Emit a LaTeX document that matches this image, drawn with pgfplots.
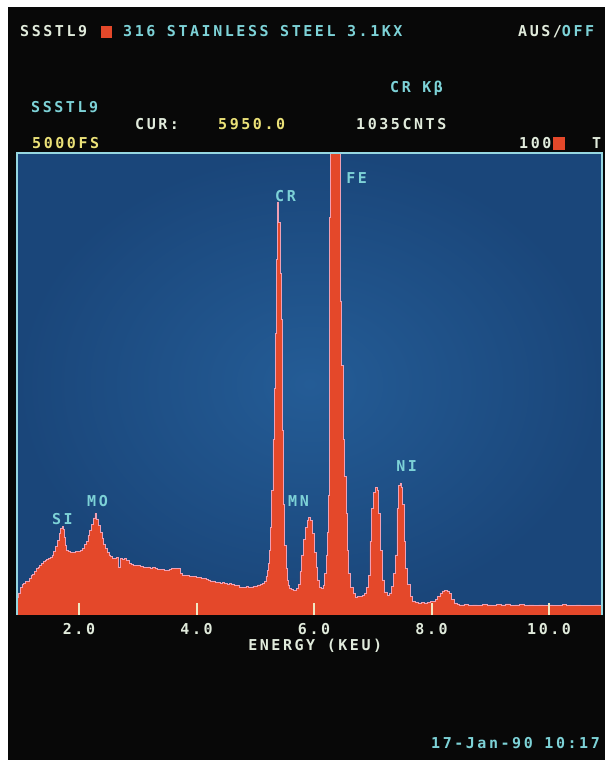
\documentclass[border=0pt]{standalone}
\usepackage{fontspec}
\usepackage{pgfplots}
\usepackage{pgfplotstable}
\pgfplotsset{compat=1.18}
\newfontfamily\scr[LetterSpace=17]{DejaVu Sans Mono Bold}
\newcommand\scrfont{\scr\fontsize{15}{15}\selectfont}
\definecolor{bgblack}{RGB}{8,8,8}
\definecolor{bluein}{RGB}{36,92,150}
\definecolor{blueout}{RGB}{26,70,122}
\definecolor{specred}{RGB}{228,72,42}
\definecolor{edgecol}{RGB}{240,160,180}
\definecolor{cyantxt}{RGB}{125,210,215}
\definecolor{yeltxt}{RGB}{235,225,120}
\definecolor{whitetxt}{RGB}{225,235,220}
\definecolor{bordercol}{RGB}{150,215,225}
\definecolor{tickcol}{RGB}{240,232,195}

\pgfplotstableread{
x y
0.945 190
0.97 240
1.00 300
1.03 330
1.06 345
1.09 360
1.12 370
1.15 400
1.18 430
1.21 440
1.24 470
1.27 500
1.30 520
1.33 540
1.36 560
1.39 580
1.42 590
1.45 600
1.48 610
1.51 620
1.54 650
1.57 690
1.60 740
1.63 810
1.66 880
1.69 940
1.71 955
1.73 930
1.75 840
1.77 750
1.79 700
1.82 685
1.86 680
1.90 675
1.94 685
1.98 690
2.02 700
2.06 720
2.09 760
2.12 800
2.15 860
2.18 920
2.21 980
2.24 1050
2.27 1100
2.30 1040
2.33 970
2.36 900
2.39 830
2.42 770
2.45 720
2.48 680
2.51 650
2.54 630
2.57 615
2.60 610
2.64 620
2.67 520
2.70 615
2.73 600
2.77 610
2.81 590
2.85 560
2.89 545
2.93 540
2.97 540
3.01 535
3.05 525
3.09 520
3.13 515
3.17 520
3.21 510
3.25 515
3.29 500
3.33 495
3.37 490
3.41 490
3.45 485
3.49 480
3.53 495
3.57 500
3.61 505
3.65 500
3.69 505
3.72 450
3.76 435
3.80 430
3.84 425
3.88 415
3.92 420
3.96 415
4.00 410
4.04 410
4.08 400
4.12 395
4.16 385
4.20 380
4.24 370
4.28 365
4.32 355
4.36 350
4.40 340
4.44 350
4.48 345
4.52 335
4.56 340
4.60 330
4.64 325
4.68 320
4.72 305
4.76 300
4.80 300
4.84 310
4.88 300
4.92 305
4.96 310
5.00 315
5.04 325
5.08 330
5.12 340
5.15 360
5.18 420
5.20 480
5.22 560
5.24 700
5.26 950
5.28 1350
5.30 1900
5.32 2450
5.34 3050
5.36 3850
5.38 4470
5.40 4250
5.42 3700
5.44 3200
5.46 2000
5.48 1200
5.50 750
5.52 500
5.54 380
5.56 320
5.58 290
5.61 275
5.64 265
5.67 270
5.70 285
5.73 330
5.76 470
5.79 650
5.82 820
5.85 950
5.88 1030
5.91 1060
5.94 1020
5.97 880
6.00 680
6.03 520
6.06 380
6.09 300
6.12 285
6.15 320
6.18 450
6.21 650
6.23 900
6.25 1300
6.26 4300
6.28 5600
6.31 6600
6.34 7200
6.37 7500
6.40 7200
6.43 6000
6.45 3400
6.47 2700
6.49 1900
6.52 1500
6.55 1100
6.57 700
6.59 450
6.62 300
6.66 230
6.70 195
6.74 200
6.78 205
6.82 215
6.86 240
6.89 300
6.92 430
6.95 800
6.98 1150
7.01 1330
7.04 1385
7.07 1350
7.10 1100
7.13 700
7.16 380
7.20 250
7.24 215
7.28 240
7.32 310
7.35 450
7.38 650
7.41 1150
7.44 1400
7.46 1430
7.48 1380
7.50 1200
7.53 800
7.56 500
7.59 330
7.63 200
7.67 150
7.72 135
7.77 130
7.82 140
7.87 130
7.92 140
7.97 145
8.02 150
8.06 170
8.10 200
8.14 240
8.18 260
8.22 265
8.26 260
8.30 230
8.34 170
8.38 130
8.43 115
8.48 110
8.55 115
8.62 105
8.70 110
8.78 105
8.86 115
8.94 110
9.02 105
9.10 115
9.18 110
9.26 120
9.34 105
9.42 110
9.50 115
9.58 105
9.66 110
9.74 100
9.82 110
9.90 105
9.98 110
10.06 100
10.14 105
10.22 115
10.30 100
10.38 105
10.46 110
10.54 100
10.62 105
10.70 100
10.78 110
10.86 100
10.90 100
}\spec

\begin{document}
\begin{tikzpicture}[x=1pt,y=1pt]
\fill[white] (0,0) rectangle (605,760);
\fill[bgblack] (8,0) rectangle (605,753);
\begin{axis}[
  at={(17pt,145pt)}, anchor=south west, scale only axis,
  width=585pt, height=462pt,
  xmin=0.945, xmax=10.9, ymin=0, ymax=5000,
  axis line style={draw=none},
  axis background/.style={inner color=bluein, outer color=blueout},
  clip mode=individual,
  xtick={2,4,6,8,10}, xticklabels={2.0,4.0,6.0,8.0,10.0},
  ytick=\empty, xtick pos=lower, tick align=inside,
  major tick length=12pt,
  xtick style={draw=tickcol, line width=2pt},
  axis on top,
  xticklabel style={font=\scrfont, text=whitetxt, anchor=north, inner sep=0pt, yshift=-8pt},
  xlabel={ENERGY (KEU)},
  xlabel style={at={(axis cs:6.02,0)}, anchor=base, inner sep=0pt, yshift=-36pt, font=\scrfont, text=whitetxt},
]
\addplot[const plot, fill=specred, draw=none] table {\spec} \closedcycle;
\addplot[const plot, draw=edgecol, line width=0.6pt] table {\spec};
\draw[bordercol, line width=1.5pt] (rel axis cs:0,0) -- (rel axis cs:0,1) -- (rel axis cs:1,1) -- (rel axis cs:1,0);
\begin{scope}[every node/.style={anchor=base west, inner sep=0pt, font=\scrfont, text=cyantxt}]
\node at (axis cs:5.336,4480) {CR};
\node at (axis cs:6.545,4674) {FE};
\node at (axis cs:5.557,1169) {MN};
\node at (axis cs:7.396,1558) {NI};
\node at (axis cs:1.540,974) {SI};
\node at (axis cs:2.136,1169) {MO};
\end{scope}
\end{axis}
\begin{scope}[every node/.style={anchor=base west, inner sep=0pt, font=\scrfont}]
\node[text=whitetxt] at (20,723) {SSSTL9};
\fill[specred] (101,722) rectangle (112,734);
\node[text=cyantxt] at (123,723) {316 STAINLESS STEEL 3.1KX};
\node at (518,723) {\textcolor{whitetxt}{AUS/}\textcolor{cyantxt}{OFF}};
\node[text=cyantxt] at (390,667) {CR Kβ};
\node[text=cyantxt] at (31,647) {SSSTL9};
\node[text=whitetxt] at (135,630) {CUR:};
\node[text=yeltxt] at (218,630) {5950.0};
\node[text=whitetxt] at (356,630) {1035CNTS};
\node[text=yeltxt] at (32,611) {5000FS};
\node[text=whitetxt] at (519,611) {100};
\fill[specred] (553,610) rectangle (565,623);
\node[text=whitetxt] at (592,611) {T};
\node[text=cyantxt, anchor=base east] at (600,12) {17-Jan-90 10:17};
\end{scope}
\end{tikzpicture}
\end{document}
